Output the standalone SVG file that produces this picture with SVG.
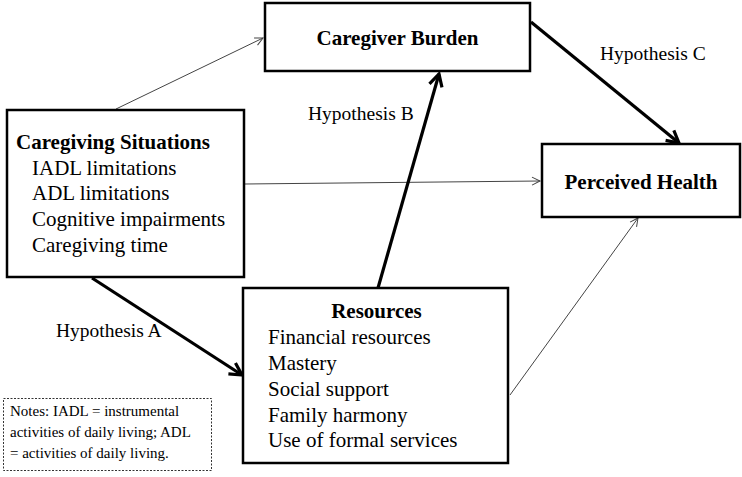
<svg xmlns="http://www.w3.org/2000/svg" width="742" height="477" viewBox="0 0 742 477">
<style>
.box{fill:#fff;stroke:#000;stroke-width:2.5}
.notes{fill:#fff;stroke:#333;stroke-width:1;stroke-dasharray:2,1.5}
text{font-family:"Liberation Serif","Times New Roman",serif;fill:#000}
.t{font-size:21px}
.b{font-size:21px;font-weight:bold}
.h{font-size:19.5px}
.n{font-size:15px}
.thin{stroke:#444;stroke-width:1;fill:none}
.thick{stroke:#000;stroke-width:3.2;fill:none}
</style>
<defs>
<marker id="ah" markerUnits="userSpaceOnUse" markerWidth="20" markerHeight="20" refX="0" refY="0" orient="auto" overflow="visible">
<path d="M-12,-6.5 L0,0 L-12,6.5" fill="none" stroke="#000" stroke-width="3.2" stroke-linejoin="miter"/>
</marker>
<marker id="al" markerUnits="userSpaceOnUse" markerWidth="12" markerHeight="12" refX="0" refY="0" orient="auto" overflow="visible">
<path d="M-8,-4 L0,0 L-8,4" fill="none" stroke="#444" stroke-width="1"/>
</marker>
</defs>
<g id="connectors">
<line class="thin" x1="116" y1="109" x2="263" y2="38" marker-end="url(#al)"/>
<line class="thin" x1="245" y1="184" x2="540" y2="181" marker-end="url(#al)"/>
<line class="thin" x1="510" y1="395" x2="638" y2="218" marker-end="url(#al)"/>
<line class="thick" x1="92" y1="278" x2="242" y2="375" marker-end="url(#ah)"/>
<line class="thick" x1="378" y1="288" x2="439" y2="74" marker-end="url(#ah)"/>
<line class="thick" x1="531" y1="22" x2="679" y2="143" marker-end="url(#ah)"/>
<text class="h" x="56" y="337">Hypothesis A</text>
<text class="h" x="308" y="120">Hypothesis B</text>
<text class="h" x="600" y="60">Hypothesis C</text>
</g>
<g id="caregiver-burden">
<rect class="box" x="265" y="3" width="265" height="68"/>
<text class="b" x="397.5" y="45" text-anchor="middle">Caregiver Burden</text>
</g>
<g id="caregiving-situations">
<rect class="box" x="7" y="110" width="237" height="167"/>
<text class="b" x="16" y="149">Caregiving Situations</text>
<text class="t" x="32" y="175">IADL limitations</text>
<text class="t" x="32" y="200">ADL limitations</text>
<text class="t" x="32" y="226">Cognitive impairments</text>
<text class="t" x="32" y="252">Caregiving time</text>
</g>
<g id="perceived-health">
<rect class="box" x="542" y="144" width="198" height="73"/>
<text class="b" x="641" y="189" text-anchor="middle">Perceived Health</text>
</g>
<g id="resources">
<rect class="box" x="243" y="288" width="265" height="175"/>
<text class="b" x="376.5" y="318" text-anchor="middle">Resources</text>
<text class="t" x="268" y="344">Financial resources</text>
<text class="t" x="268" y="370">Mastery</text>
<text class="t" x="268" y="396">Social support</text>
<text class="t" x="268" y="422">Family harmony</text>
<text class="t" x="268" y="447">Use of formal services</text>
</g>
<g id="notes">
<rect class="notes" x="3.5" y="398.5" width="208" height="72"/>
<text class="n" x="10" y="416">Notes: IADL = instrumental</text>
<text class="n" x="10" y="437">activities of daily living; ADL</text>
<text class="n" x="10" y="458">= activities of daily living.</text>
</g>
</svg>
